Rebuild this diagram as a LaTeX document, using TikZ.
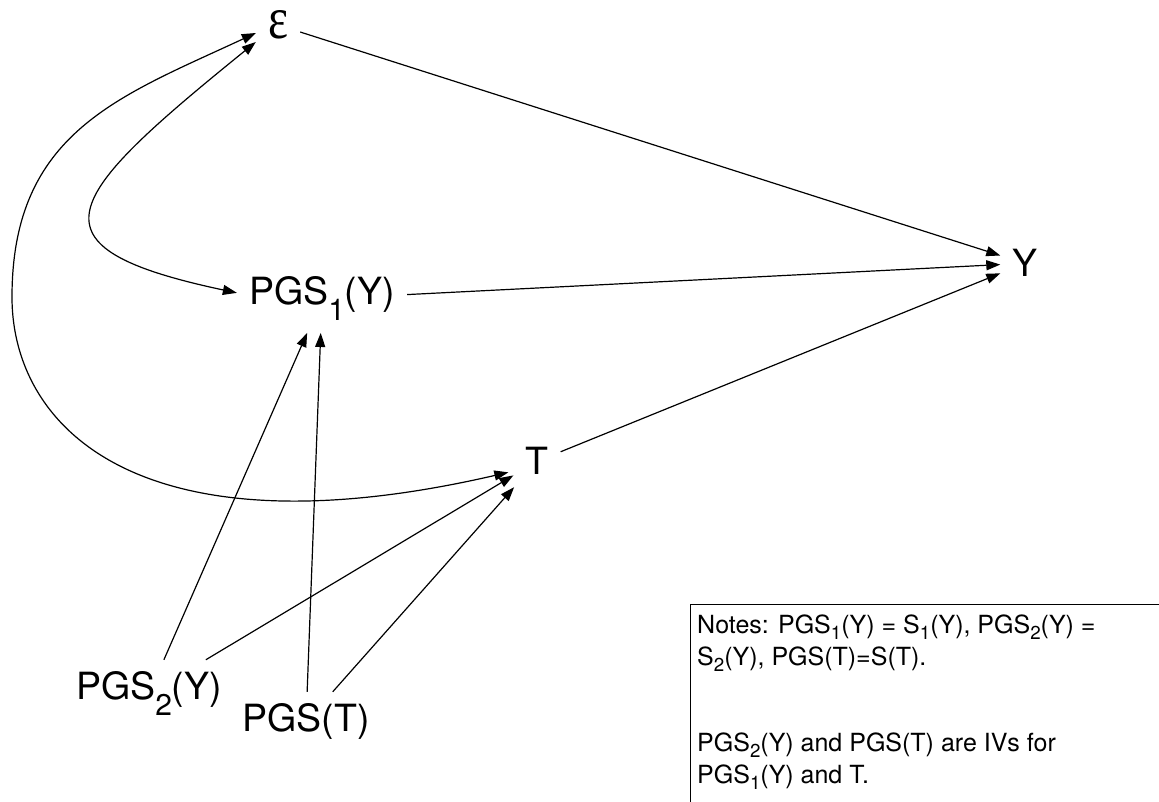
\documentclass[tikz,border=0pt]{standalone}
\usepackage{fontspec}
\usepackage{graphicx}
\setmainfont{TeX Gyre Heros}
\newfontfamily\serifgreek{Liberation Serif}
\usetikzlibrary{arrows.meta}
\newcommand\lowsub[1]{\raisebox{-0.42em}{\scalebox{0.8}{#1}}}
\newcommand\notesub[1]{\raisebox{-0.24em}{\scalebox{0.75}{#1}}}
\begin{document}
\begin{tikzpicture}[x=1pt,y=1pt,
  lbl/.style={font=\fontsize{37.5}{40}\selectfont, inner sep=12pt},
  tip/.tip={Triangle[length=14pt,width=10pt]},
  arr/.style={line width=1.2pt, -tip},
  dbl/.style={line width=1.2pt, tip-tip},
  notebox/.style={line width=1pt}
]
\clip (0,0) rectangle (1159,802);
% nodes
\node[lbl, inner ysep=4pt] (eps) at (278,777) {\resizebox{20pt}{28pt}{\serifgreek ε}};
\node[lbl, anchor=base] (Y) at (1025,525) {Y};
\node[lbl, anchor=base] (pgs1) at (322,497) {PGS\lowsub{1}(Y)};
\node[lbl, anchor=base] (T) at (537,327) {T};
\node[lbl, anchor=base] (pgs2) at (149,102) {PGS\lowsub{2}(Y)};
\node[lbl, anchor=base] (pgst) at (306,70) {PGS(T)};
\coordinate (lft) at (12,505);
% straight connectors
\draw[arr] (eps) -- (Y);
\draw[arr] (pgs1) -- (Y);
\draw[arr] (T) -- (Y);
\draw[arr] (pgs2) -- (pgs1);
\draw[arr] (pgs2) -- (T);
\draw[arr] (pgst) -- (pgs1);
\draw[arr] (pgst) -- (T);
% curved bidirectional connectors
\draw[dbl] ([yshift=-17pt]eps.west) to[out=219,in=168,out distance=250pt,in distance=220pt] ([yshift=6pt]pgs1.west);
\draw[dbl] ([yshift=-8pt]eps.west) to[out=205,in=90,out distance=150pt,in distance=165pt] (lft)
  to[out=-90,in=193,out distance=130pt,in distance=380pt] ([shift={(-5pt,-11pt)}]T.west);
% notes
\draw[notebox] (690,197) rectangle (1175,-15);
\node[anchor=north west, inner sep=0pt, align=left, font=\fontsize{25}{32}\selectfont] (notes) at (697,187)
 {Notes: PGS\notesub{1}(Y) = S\notesub{1}(Y), PGS\notesub{2}(Y) =\\
  S\notesub{2}(Y), PGS(T)=S(T).\\[54pt]
  PGS\notesub{2}(Y) and PGS(T) are IVs for\\
  PGS\notesub{1}(Y) and T.};
\end{tikzpicture}
\end{document}
